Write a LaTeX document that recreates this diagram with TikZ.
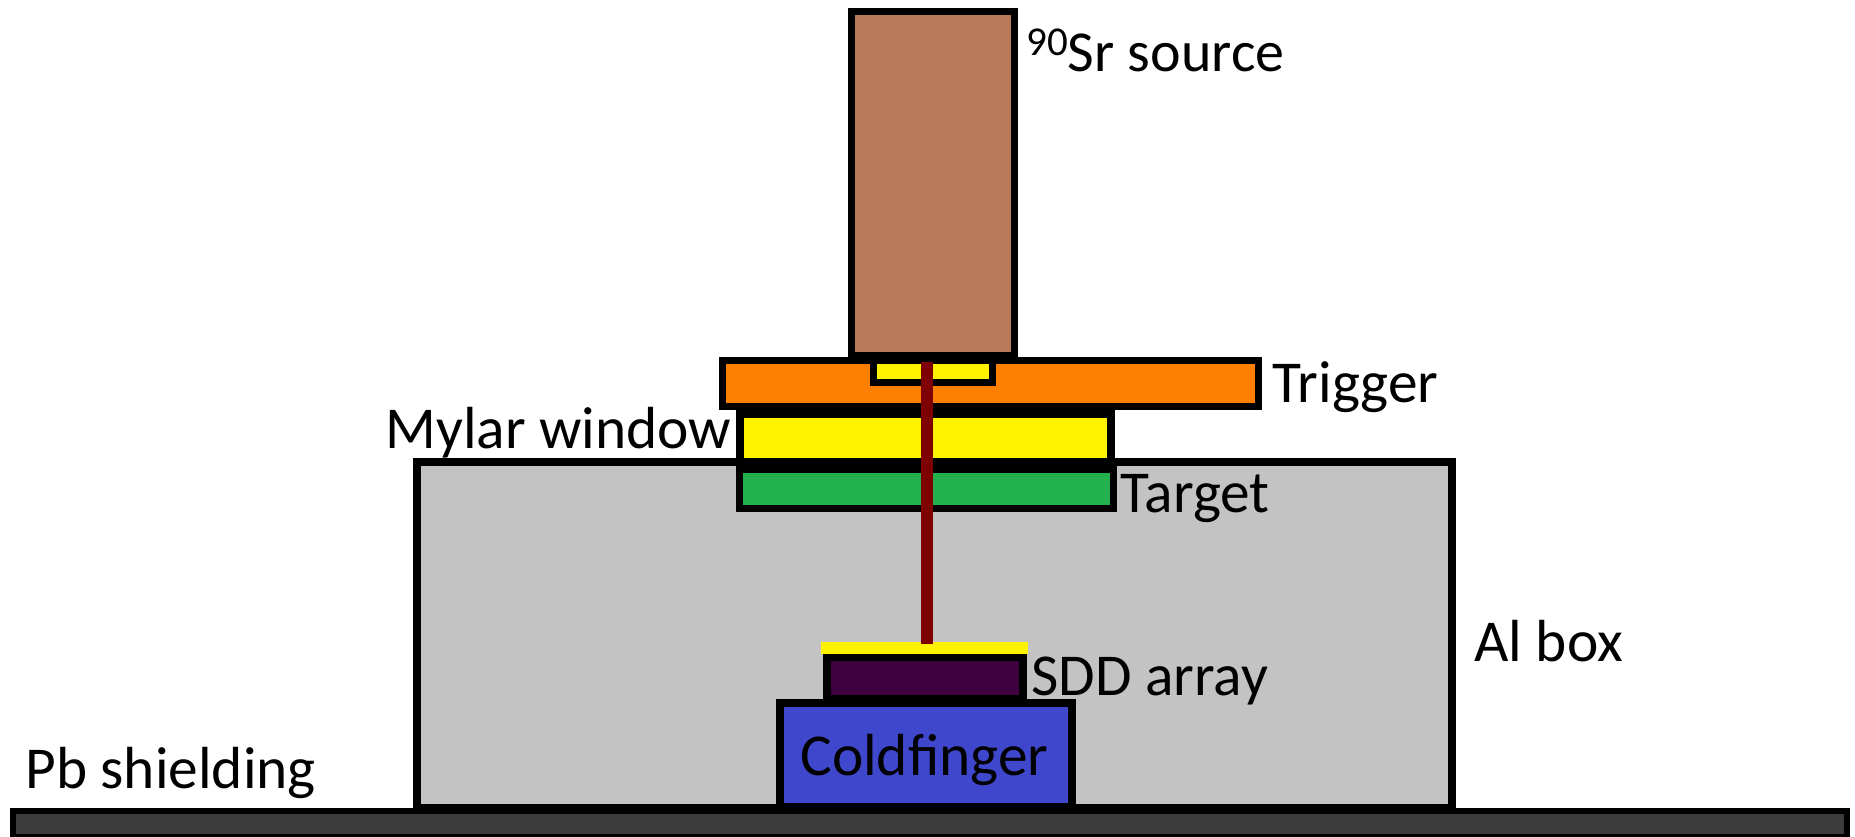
\documentclass[tikz,border=0pt]{standalone}
\usepackage{fontspec}
\setmainfont{Carlito}
\usetikzlibrary{positioning}
\definecolor{srbrown}{HTML}{B67A58}
\definecolor{trigorange}{HTML}{FF8000}
\definecolor{mylaryellow}{HTML}{FFF200}
\definecolor{targetgreen}{HTML}{22B14C}
\definecolor{boxgrey}{HTML}{C3C3C3}
\definecolor{sddpurple}{HTML}{3F003F}
\definecolor{coldblue}{HTML}{3F48CC}
\definecolor{pbgrey}{HTML}{3C3C3C}
\definecolor{beamred}{HTML}{7F0000}
\begin{document}
\begin{tikzpicture}[
    x=0.5pt, y=-0.5pt,
    part/.style={rectangle, draw=black, line width=3.5pt, inner sep=0pt, outer sep=0pt},
    tag/.style={font=\fontsize{29.7}{29.7}\selectfont, text=black, inner sep=0pt, anchor=base west},
    beam/.style={line width=6pt, draw=beamred}
]
    \useasboundingbox (0,0) rectangle (1855,836);
    \fill[white] (0,0) rectangle (1855,836);

    % Al box and Pb shielding
    \node [part, fill=boxgrey, line width=4pt, minimum width=517.5pt, minimum height=173.25pt] (albox) at (934,634.75) {};
    \node [part, fill=pbgrey, line width=3pt, minimum width=917pt, minimum height=13pt] (pb) at (930,824) {};

    % Source, trigger and window stack
    \node [part, fill=srbrown, minimum width=81.5pt, minimum height=172pt] (source) at (932.5,183.5) {};
    \node [part, fill=trigorange, minimum width=268pt, minimum height=23pt] (trigger) at (990,383.5) {};
    \node [part, fill=mylaryellow, minimum width=59.5pt, minimum height=10.75pt] (hole) at (933,371.25) {};
    \node [part, fill=mylaryellow, line width=4pt, minimum width=185.5pt, minimum height=24pt] (mylar) at (925,437.5) {};
    \node [part, fill=targetgreen, minimum width=187pt, minimum height=19.5pt] (target) at (926.5,489) {};

    % Detector stack
    \node [part, fill=coldblue, line width=4pt, minimum width=146pt, minimum height=52pt] (coldfinger) at (925.5,755) {};
    \node [part, fill=sddpurple, line width=4pt, minimum width=98pt, minimum height=21pt] (sdd) at (924.7,678) {};
    \node [rectangle, fill=mylaryellow, inner sep=0pt, minimum width=103.25pt, minimum height=6pt] (foil) at (924.7,648) {};

    % Electron path
    \coordinate (beamstart) at (927,362);
    \coordinate (beamend) at (927,644);
    \draw [beam] (beamstart) -- (beamend);

    % Labels
    \node [tag, font=\fontsize{29}{29}\selectfont] (srlabel) at (1026,71) {\raisebox{8pt}{\fontsize{20.5}{20.5}\selectfont 90}Sr source};
    \node [tag] (triglabel) at (1272,402) {Trigger};
    \node [tag] (mylarlabel) at (385,448) {Mylar window};
    \node [tag] (targetlabel) at (1120,512) {Target};
    \node [tag] (sddlabel) at (1031,695) {SDD array};
    \node [tag] (allabel) at (1474,661) {Al box};
    \node [tag] (pblabel) at (25,788) {Pb shielding};
    \node [tag] (coldlabel) at (800,775) {Coldfinger};

\end{tikzpicture}
\end{document}
